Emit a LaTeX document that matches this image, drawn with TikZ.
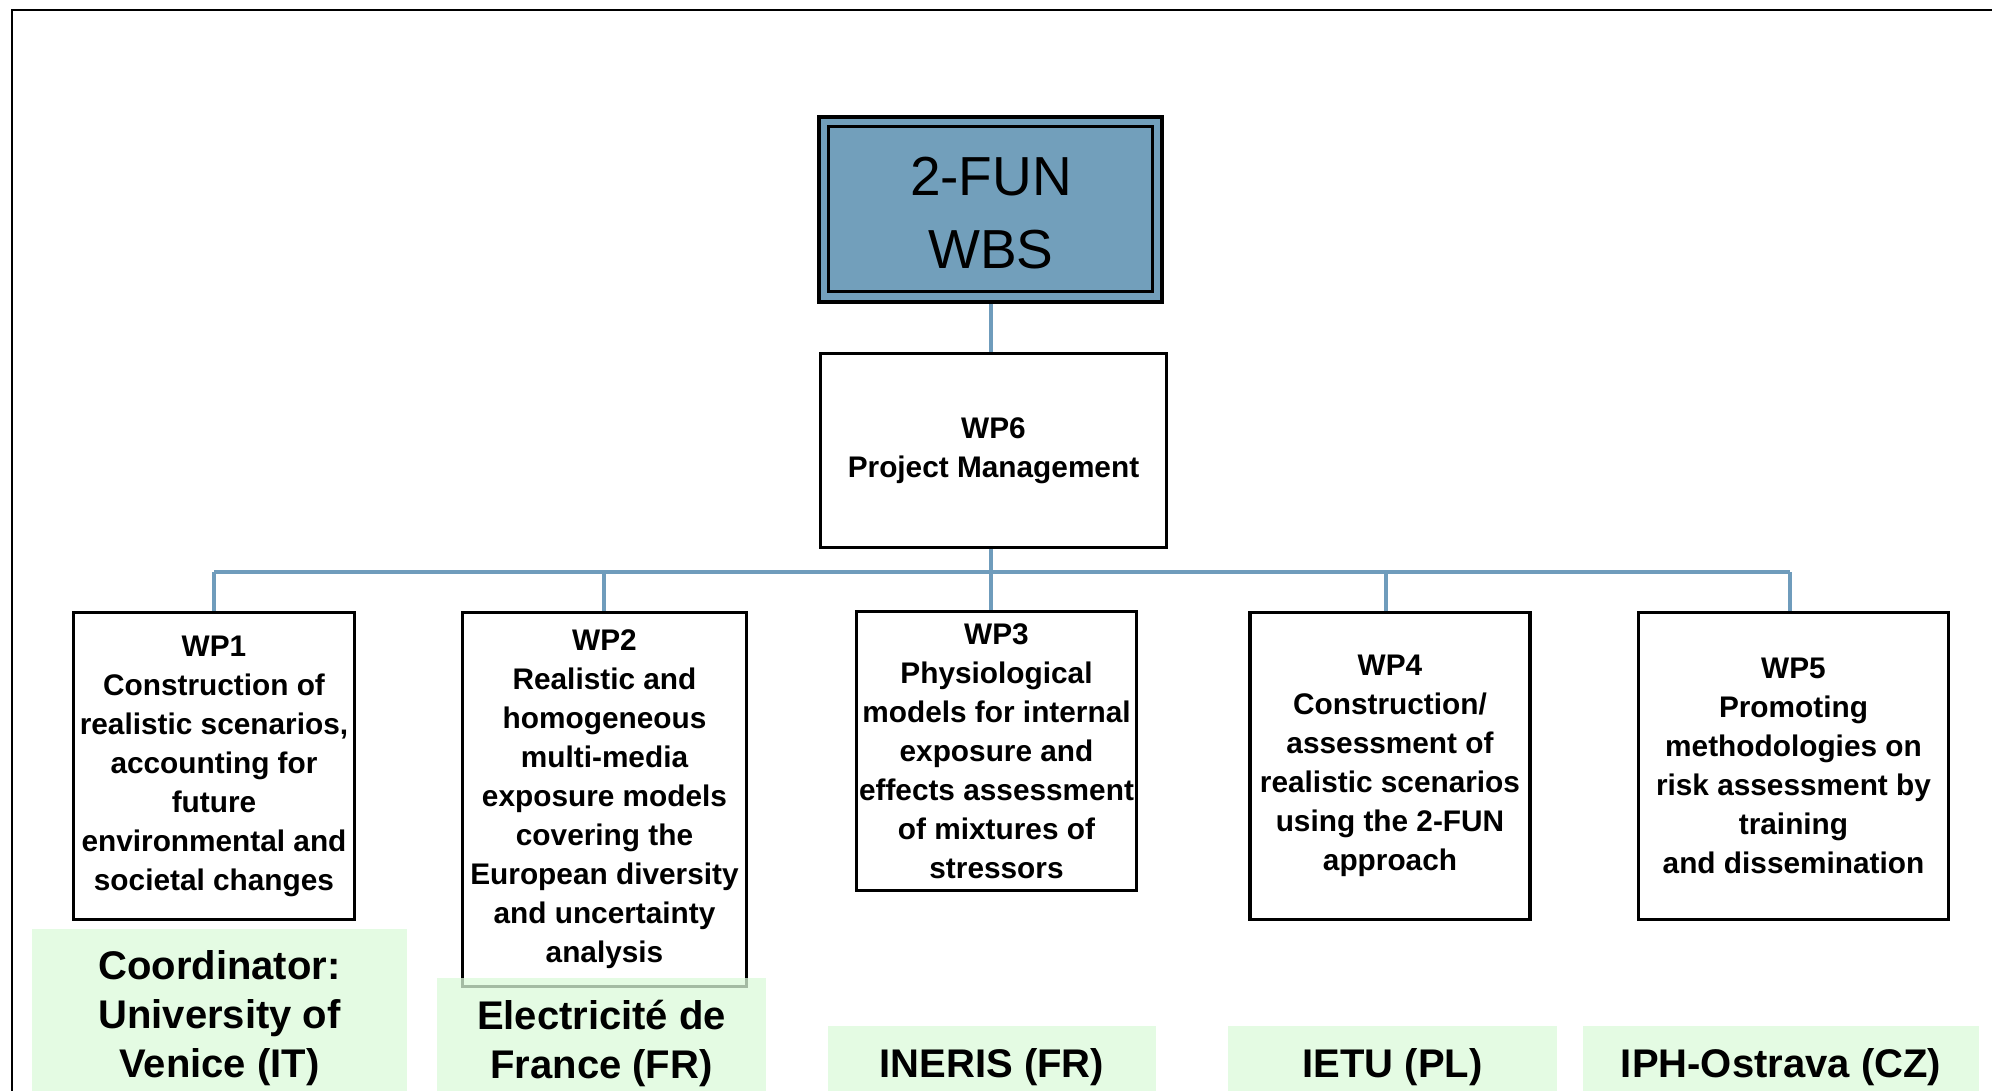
\documentclass[tikz,border=0pt]{standalone}
\usepackage{fontspec}
\setmainfont{Liberation Sans}
\definecolor{wbsblue}{RGB}{114,159,187}
\definecolor{linkblue}{RGB}{111,156,188}
\definecolor{orggreen}{RGB}{220,250,218}
\newcommand\wpfont{\bfseries\fontsize{29.8}{39}\selectfont}
\newcommand\orgfont{\bfseries\fontsize{40}{49}\selectfont}
\newcommand\ttlfont{\fontsize{55}{73}\selectfont}
\tikzset{
  wpbox/.style={draw=black, line width=3.5pt, fill=white, inner sep=0pt, align=center, font=\wpfont},
  orgbox/.style={fill=orggreen, fill opacity=0.75, text opacity=1, inner sep=0pt, align=center, font=\orgfont},
  link/.style={draw=linkblue, line width=3.5pt},
}
\begin{document}
\begin{tikzpicture}[x=1pt,y=-1pt]
\useasboundingbox (0,0) rectangle (1992,1091);
\clip (0,0) rectangle (1992,1091);
\fill[white] (0,0) rectangle (1992,1091);
% frame
\draw[line width=2.5pt] (12,1100) -- (12,10) -- (2000,10);

% top box
\node[draw=black, line width=4pt, fill=wbsblue, minimum width=343pt, minimum height=185pt, inner sep=0pt] (top) at (990.5,209.5) {};
\node[draw=black, line width=3pt, minimum width=324pt, minimum height=165pt, inner sep=0pt] (topin) at (990.5,209.5) {};
\node[inner sep=0pt, align=center, font=\ttlfont] (ttl) at (991,213) {2-FUN\\WBS};

% WP6
\node[wpbox, minimum width=346pt, minimum height=194pt] (wp6) at (993.5,450.5) {WP6\\Project Management};

% WP boxes
\node[wpbox, minimum width=281pt, minimum height=307pt] (wp1) at (214,766)
  {WP1\\Construction of\\realistic scenarios,\\accounting for\\future\\environmental and\\societal changes};
\node[wpbox, minimum width=284pt, minimum height=374pt] (wp2) at (604.5,799.5)
  {WP2\\Realistic and\\homogeneous\\multi-media\\exposure models\\covering the\\European diversity\\and uncertainty\\analysis};
\node[wpbox, minimum width=280pt, minimum height=279pt] (wp3) at (996.5,751)
  {WP3\\Physiological\\models for internal\\exposure and\\effects assessment\\of mixtures of\\stressors};
\node[wpbox, minimum width=280pt, minimum height=307pt] (wp4) at (1390,766)
  {WP4\\Construction/\\assessment of\\realistic scenarios\\using the 2-FUN\\approach};
\node[wpbox, minimum width=310pt, minimum height=307pt] (wp5) at (1793.5,766)
  {WP5\\Promoting\\methodologies on\\risk assessment by\\training\\and dissemination};

% bus junctions
\coordinate (j1) at (214,572);
\coordinate (j2) at (604,572);
\coordinate (j3) at (991,572);
\coordinate (j4) at (1386,572);
\coordinate (j5) at (1790,572);

% connectors
\draw[link] (top.south -| j3) -- (j3 |- wp6.north);
\draw[link] (j3 |- wp6.south) -- (j3 |- wp3.north);
\draw[link] (j1) -- (j5);
\draw[link] (j1) -- (j1 |- wp1.north);
\draw[link] (j2) -- (j2 |- wp2.north);
\draw[link] (j4) -- (j4 |- wp4.north);
\draw[link] (j5) -- (j5 |- wp5.north);

% partner boxes
\node[orgbox, minimum width=375pt, minimum height=178pt] (o1) at (219.5,1018) {Coordinator:\\University of\\Venice (IT)};
\node[orgbox, minimum width=329pt, minimum height=130pt] (o2) at (601.5,1043) {Electricité de\\France (FR)};
\node[orgbox, minimum width=328pt, minimum height=82pt] (o3) at (992,1067) {INERIS (FR)};
\node[orgbox, minimum width=329pt, minimum height=82pt] (o4) at (1392.5,1067) {IETU (PL)};
\node[orgbox, minimum width=396pt, minimum height=82pt] (o5) at (1781,1067) {IPH-Ostrava (CZ)};
\end{tikzpicture}
\end{document}
